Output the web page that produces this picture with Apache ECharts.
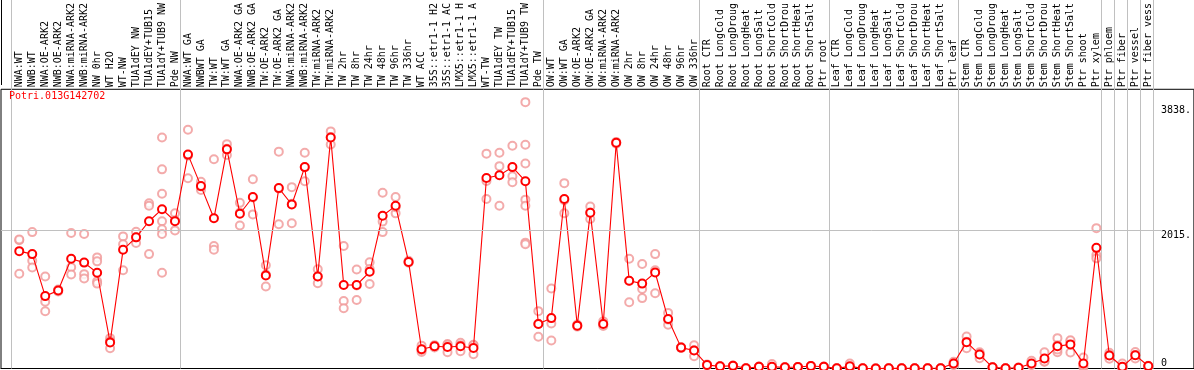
<!DOCTYPE html>
<html>
<head>
<meta charset="utf-8">
<script src="https://cdn.jsdelivr.net/npm/echarts@6/dist/echarts.min.js"></script>
<style>
html,body{margin:0;padding:0;background:#fff;}
#chart{width:1194px;height:370px;}
</style>
</head>
<body>
<div id="chart"></div>
<script>
const title = "Potri.013G142702";

const categories = [
  "NWA:WT","NWB:WT","NWA:OE-ARK2","NWB:OE-ARK2","NWA:miRNA-ARK2","NWB:miRNA-ARK2","NW 0hr","WT H2O","WT-NW","TUA1dEY NW","TUA1dEY+TUB15","TUA1dY+TUB9 NW","Pde NW",
  "NWA:WT GA","NWBWT GA","TW:WT","TW:WT GA","NWA:OE-ARK2 GA","NWB:OE-ARK2 GA","TW:OE-ARK2","TW:OE-ARK2 GA","NWA:miRNA-ARK2","NWB:miRNA-ARK2","TW:miRNA-ARK2","TW:miRNA-ARK2","TW 2hr","TW 8hr","TW 24hr","TW 48hr","TW 96hr","TW 336hr","WT ACC","35S::etr1-1 H2","35S::etr1-1 AC","LMX5::etr1-1 H","LMX5::etr1-1 A","WT-TW","TUA1dEY TW","TUA1dEY+TUB15","TUA1dY+TUB9 TW","Pde TW",
  "OW:WT","OW:WT GA","OW:OE-ARK2","OW:OE-ARK2 GA","OW:miRNA-ARK2","OW:miRNA-ARK2","OW 2hr","OW 8hr","OW 24hr","OW 48hr","OW 96hr","OW 336hr",
  "Root CTR","Root LongCold","Root LongDroug","Root LongHeat","Root LongSalt","Root ShortCold","Root ShortDrou","Root ShortHeat","Root ShortSalt","Ptr root",
  "Leaf CTR","Leaf LongCold","Leaf LongDroug","Leaf LongHeat","Leaf LongSalt","Leaf ShortCold","Leaf ShortDrou","Leaf ShortHeat","Leaf ShortSalt","Ptr leaf",
  "Stem CTR","Stem LongCold","Stem LongDroug","Stem LongHeat","Stem LongSalt","Stem ShortCold","Stem ShortDrou","Stem ShortHeat","Stem ShortSalt","Ptr shoot","Ptr xylem",
  "Ptr phloem","Ptr fiber","Ptr vessel","Ptr fiber vess"
];

// index of the last category of each group (-1 = left edge)
const groupEnds = [-1, 12, 40, 52, 62, 72, 83, 84, 85, 86, 87];

const means = [
  1709,1666,1054,1136,1599,1542,1394,380,1728,1910,2144,2320,2144,
  3115,2656,2187,3191,2254,2498,1355,2627,2388,2933,1341,3363,1216,1216,1408,2225,2369,1552,280,323,313,323,298,2775,2814,2933,2728,648,
  734,2469,624,2269,648,3287,1279,1236,1398,720,304,261,
  52,31,41,3,26,26,17,21,36,26,
  2,31,2,1,3,2,3,3,3,74,
  384,203,17,4,11,74,146,323,351,74,1757,
  189,26,194,36
];

const replicates = [
  [1867,1880,1380],[1986,1570,1470],[1341,972,834],[1150,1120,1140],[1972,1474,1370],[1958,1374,1312],[1618,1560,1269,1236],[442,294,400],[1924,1810,1431],[1991,1829,1910],[2407,2369,1666],[3363,2900,2546,2144,2029,1958,1394],[2259,2011,2160],
  [3478,2771,3100],[2718,2599,2650],[3047,1785,1728],[3267,3109,3200],[2412,2082,2270],[2756,2244,2490],[1503,1193,1370],[3158,2101,2620],[2641,2115,2400],[3143,2728,2930],[1446,1241,1340],[3453,3263,3370],[1785,982,878],[1441,997,1210],[1546,1230,1450],[2560,2139,1986],[2498,2259,2350],[1570,1540,1550],[333,241,270],[340,305,323],[356,237,345],[376,251,340],[347,208,340],[3129,2469,2730],[3143,2947,2369],[3244,2799,2713],[3879,3258,2986,2459,2369,1833,1810],[835,462,650],
  [1164,657,409],[2699,2259,2450],[640,610,624],[2359,2177,2270],[686,640,620],[3300,3275,3287],[1599,964,1275],[1523,1159,1025],[1666,1097,1430],[810,638,712],[310,298,304],[337,179,267],
  [60,45,52],[31,28,34],[41,38,44],[3,2,4],[26,24,28],[65,10,5],[17,15,19],[21,20,22],[36,34,38],[26,24,28],
  [2,1,3],[74,10,9],[2,1,3],[1,0,2],[3,2,4],[2,1,3],[3,2,4],[3,2,4],[3,2,4],[98,50,74],
  [466,294,390],[237,151,220],[17,15,19],[4,3,5],[11,9,13],[112,60,50],[237,98,103],[442,237,275,340],[399,232,410],[160,17,45],[2044,1652,1604],
  [141,230,195],[74,5,0],[241,146,195],[36,30,40]
];

const yTickLabels = [2015, 3838];
const yZeroLabel = [0];
const gridValue = 2015;

const X_MIN = -1.4077, X_MAX = 90.515;
const Y_MIN = 0, Y_MAX = 4066;

const repData = [];
replicates.forEach((arr, i) => arr.forEach(v => repData.push([i, v])));
const meanData = means.map((v, i) => [i, v]);
const catIdx = categories.map((c, i) => i);
const sepVals = groupEnds.map(e => e + 5 / 13);

const mono = "'DejaVu Sans Mono', 'Liberation Mono', monospace";

const chart = echarts.init(document.getElementById('chart'), null, {renderer: 'canvas'});
chart.setOption({
  animation: false,
  backgroundColor: '#fff',
  title: {
    text: title, left: 9, top: 91, padding: 0,
    textStyle: {color: '#ff0000', fontFamily: mono, fontSize: 10, fontWeight: 'normal'}
  },
  grid: {left: 1, right: -2, top: 85, bottom: 1.5, show: true, borderColor: '#000', borderWidth: 1, backgroundColor: 'transparent'},
  graphic: [{type: 'line', shape: {x1: 1.5, y1: 0, x2: 1.5, y2: 85}, style: {stroke: '#000', lineWidth: 1}}],
  xAxis: [{
    type: 'value', position: 'top', min: X_MIN, max: X_MAX,
    axisLine: {show: true, lineStyle: {color: '#000', width: 1}},
    axisTick: {show: false}, splitLine: {show: false},
    axisLabel: {
      customValues: catIdx, formatter: v => categories[Math.round(v)] || '',
      rotate: 90, margin: 2, fontFamily: mono, fontSize: 10, color: '#000',
      padding: [0, 0, 5, 0]
    }
  }, {
    type: 'value', position: 'bottom', min: X_MIN, max: X_MAX,
    axisLine: {show: false}, splitLine: {show: false}, axisLabel: {show: false},
    axisTick: {show: true, inside: true, length: 369, customValues: sepVals, lineStyle: {color: '#c0c0c0', width: 1}}
  }],
  yAxis: [{
    type: 'value', position: 'right', min: Y_MIN, max: Y_MAX, z: 5,
    axisLine: {show: false}, axisTick: {show: false}, splitLine: {show: false},
    axisLabel: {customValues: yTickLabels, formatter: v => v + '.', inside: true, align: 'left', verticalAlign: 'top',
      margin: 33, fontFamily: mono, fontSize: 10, color: '#000'}
  }, {
    type: 'value', position: 'right', min: Y_MIN, max: Y_MAX, z: 5,
    axisLine: {show: false}, axisTick: {show: false}, splitLine: {show: false},
    axisLabel: {customValues: yZeroLabel, formatter: v => String(v), inside: true, align: 'left', verticalAlign: 'bottom',
      margin: 33, fontFamily: mono, fontSize: 10, color: '#000'}
  }],
  series: [{
    type: 'scatter', xAxisIndex: 0, yAxisIndex: 0, data: repData, z: 2,
    symbol: 'emptyCircle', symbolSize: 8, clip: false,
    itemStyle: {color: 'rgb(240,150,150)', borderColor: 'rgb(240,150,150)', borderWidth: 1.1},
    markLine: {
      silent: true, symbol: ['none', 'none'], label: {show: false},
      lineStyle: {color: '#c0c0c0', type: 'solid', width: 1},
      data: [[{coord: [X_MIN, gridValue]}, {coord: [categories.length, gridValue]}]]
    }
  }, {
    type: 'line', xAxisIndex: 0, yAxisIndex: 0, data: meanData, z: 3,
    symbol: 'emptyCircle', symbolSize: 8, clip: false,
    lineStyle: {color: '#ff0000', width: 1.1},
    itemStyle: {color: '#ff0000', borderColor: '#ff0000', borderWidth: 1.3}
  }]
});
</script>
</body>
</html>
